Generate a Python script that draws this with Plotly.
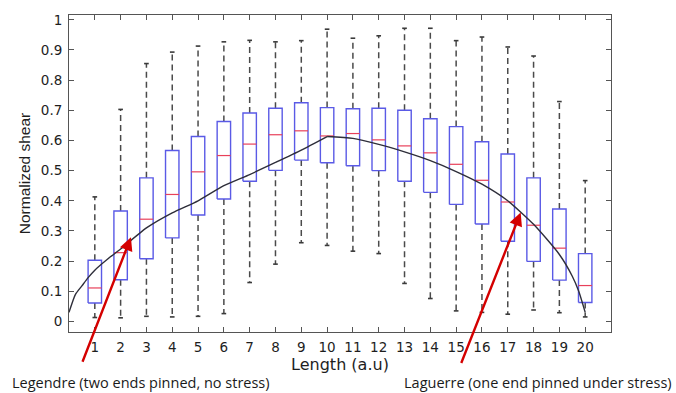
import plotly.graph_objects as go

# Box statistics per length bin
lengths = list(range(1, 21))
upper_whisker = [0.413, 0.703, 0.855, 0.893, 0.913, 0.927, 0.932, 0.927, 0.931, 0.969,
                 0.939, 0.947, 0.972, 0.972, 0.931, 0.943, 0.910, 0.880, 0.729, 0.467]
q3 = [0.203, 0.366, 0.476, 0.567, 0.613, 0.663, 0.691, 0.707, 0.725, 0.709,
      0.705, 0.707, 0.700, 0.672, 0.646, 0.596, 0.555, 0.476, 0.373, 0.225]
median = [0.111, 0.228, 0.339, 0.421, 0.496, 0.550, 0.588, 0.619, 0.632, 0.615,
          0.623, 0.602, 0.582, 0.559, 0.521, 0.468, 0.396, 0.319, 0.243, 0.119]
q1 = [0.061, 0.138, 0.208, 0.277, 0.353, 0.406, 0.465, 0.501, 0.535, 0.526,
      0.516, 0.500, 0.465, 0.428, 0.388, 0.323, 0.266, 0.199, 0.137, 0.063]
lower_whisker = [0.013, 0.012, 0.017, 0.015, 0.017, 0.026, 0.129, 0.190, 0.261, 0.252,
                 0.233, 0.225, 0.126, 0.076, 0.035, 0.030, 0.024, 0.038, 0.029, 0.015]

# Fitted profile: Legendre rise up to the peak, Laguerre fall after it
rise_x = [0.0, 0.25, 0.5, 0.75, 1, 1.5, 2, 3, 4, 5, 6, 7, 8, 9, 10]
rise_y = [0.03, 0.09, 0.118, 0.146, 0.17, 0.207, 0.24, 0.31, 0.36, 0.40, 0.45, 0.487, 0.527, 0.568, 0.613]
fall_x = [10, 11, 12, 13, 14, 15, 16, 17, 18, 19, 19.5, 19.75, 20]
fall_y = [0.613, 0.607, 0.587, 0.562, 0.533, 0.497, 0.455, 0.40, 0.322, 0.222, 0.15, 0.10, 0.03]

y_ticks = [i / 10 for i in range(11)]
y_tick_text = ["0"] + [f"{v:.1f}" for v in y_ticks[1:-1]] + ["1"]

HALF_BOX = 0.26
HALF_CAP = 0.09

wx, wy = [], []
cx, cy = [], []
bx, by = [], []
mx, my = [], []
for x, hi, b3, m, b1, lo in zip(lengths, upper_whisker, q3, median, q1, lower_whisker):
    wx += [x, x, None, x, x, None]
    wy += [b3, hi, None, b1, lo, None]
    cx += [x - HALF_CAP, x + HALF_CAP, None, x - HALF_CAP, x + HALF_CAP, None]
    cy += [hi, hi, None, lo, lo, None]
    bx += [x - HALF_BOX, x + HALF_BOX, x + HALF_BOX, x - HALF_BOX, x - HALF_BOX, None]
    by += [b1, b1, b3, b3, b1, None]
    mx += [x - HALF_BOX, x + HALF_BOX, None]
    my += [m, m, None]

fig = go.Figure()
fig.add_trace(go.Scatter(x=wx, y=wy, mode="lines", line=dict(color="#4a4a4a", width=1.5, dash="6px,4px"),
                         hoverinfo="skip"))
fig.add_trace(go.Scatter(x=cx, y=cy, mode="lines", line=dict(color="#3a3a3a", width=1.6), hoverinfo="skip"))
fig.add_trace(go.Scatter(x=bx, y=by, mode="lines", line=dict(color="#5a5ae6", width=1.4), hoverinfo="skip"))
fig.add_trace(go.Scatter(x=mx, y=my, mode="lines", line=dict(color="#e8405a", width=1.2), hoverinfo="skip"))
curve_line = dict(color="#2e2e3a", width=1.4, shape="spline", smoothing=0.6)
fig.add_trace(go.Scatter(x=rise_x, y=rise_y, mode="lines", line=curve_line, hoverinfo="skip"))
fig.add_trace(go.Scatter(x=fall_x, y=fall_y, mode="lines", line=curve_line, hoverinfo="skip"))

axis_common = dict(showline=True, linecolor="#555555", linewidth=1, mirror="ticks", ticks="inside",
                   ticklen=5, tickcolor="#555555", showgrid=False, zeroline=False,
                   tickfont=dict(family="DejaVu Sans", size=13.5, color="#1e1e1e"))

fig.update_xaxes(range=[0, 21], tickmode="array", tickvals=lengths, ticktext=[str(v) for v in lengths],
                 ticklabelstandoff=3,
                 title=dict(text="Length (a.u)", font=dict(family="DejaVu Sans", size=16, color="#1e1e1e"),
                            standoff=4),
                 **axis_common)
fig.update_yaxes(range=[-0.035, 1.016], tickmode="array", tickvals=y_ticks, ticktext=y_tick_text,
                 ticklabelstandoff=3,
                 title=dict(text="Normalized shear",
                            font=dict(family="Liberation Sans", size=15.5, color="#1e1e1e"),
                            standoff=6),
                 **axis_common)

arrow_style = dict(showarrow=True, arrowhead=2, arrowsize=1.1, arrowwidth=2.4, arrowcolor="#d40000",
                   text="", axref="pixel", ayref="pixel", standoff=0)
fig.add_annotation(x=2.40, y=0.279, ax=-49, ay=126, **arrow_style)
fig.add_annotation(x=17.5, y=0.361, ax=-60, ay=152, **arrow_style)

label_font = dict(family="Open Sans", size=14.5, color="#1a1a1a")
fig.add_annotation(x=-0.109, y=-0.16, xref="paper", yref="paper", xanchor="left", yanchor="middle",
                   text="Legendre (two ends pinned, no stress)", showarrow=False, font=label_font)
fig.add_annotation(x=1.116, y=-0.16, xref="paper", yref="paper", xanchor="right", yanchor="middle",
                   text="Laguerre (one end pinned under stress)", showarrow=False, font=label_font)

fig.update_layout(width=676, height=393, margin=dict(l=69, r=65, t=12, b=61),
                  plot_bgcolor="white", paper_bgcolor="white", showlegend=False)

fig.write_html("out.html")
